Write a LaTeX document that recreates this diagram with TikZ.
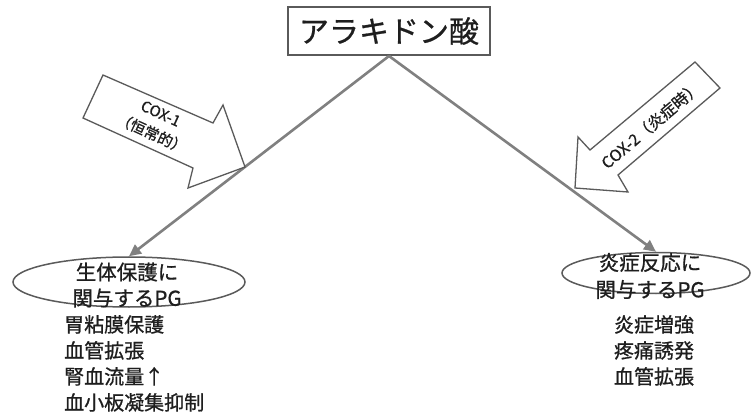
\documentclass[tikz,border=0pt]{standalone}
\usepackage{fontspec}
\setmainfont{Noto Sans CJK JP}[AutoFakeBold=0.8]
\usetikzlibrary{arrows.meta,shapes.geometric}
\definecolor{linegray}{HTML}{808080}
\definecolor{boxgray}{HTML}{5A5A5A}
\definecolor{inkc}{HTML}{1E1E1E}
\begin{document}
\begin{tikzpicture}[x=1pt,y=-1pt,
  every node/.style={text=inkc},
  topbox/.style={draw=boxgray,line width=2pt,minimum width=202pt,minimum height=48pt,inner sep=0pt,font=\fontsize{30}{32}\selectfont\bfseries},
  oval/.style={ellipse,draw=boxgray,line width=1.5pt,inner sep=0pt},
  conn/.style={draw=linegray,line width=2.6pt,-{Triangle[length=12pt,width=11pt]}},
  blockarrow/.style={draw=boxgray,line width=1.3pt,fill=white,line join=miter},
  labeltext/.style={font=\fontsize{20.5}{26}\selectfont\bfseries,inner sep=0pt},
  listtext/.style={font=\fontsize{20}{26}\selectfont\bfseries,inner sep=0pt},
  arrowtext/.style={font=\fontsize{15}{22}\selectfont\bfseries,inner sep=0pt,align=center}
]
\useasboundingbox[fill=white] (0,0) rectangle (751,419);

% top node
\node[topbox] (aa) at (389,31) {アラキドン酸};

% ellipses
\node[oval,minimum width=232pt,minimum height=50pt] (le) at (129,282) {};
\node[oval,minimum width=188pt,minimum height=41pt] (re) at (656,273) {};

% ellipse labels
\node[labeltext,align=center] (lt) at (127,285) {生体保護に\\関与するPG};
\node[labeltext,align=center,font=\fontsize{20.5}{27}\selectfont\bfseries] (rt) at (650,276) {炎症反応に\\関与するPG};

% connectors
\draw[conn] (aa.south) -- (le.north);
\draw[conn] (aa.south) -- (re.north);

% block arrows
\draw[blockarrow] (103,75) -- (213,123) -- (223,105) -- (245,167) -- (188,188) -- (193,168) -- (83,118) -- cycle;
\draw[blockarrow] (695,62) -- (720,88) -- (618,175) -- (628,192) -- (575,188) -- (578,137) -- (590,150) -- cycle;

\node[arrowtext,rotate=-24.5] (c1) at (156,124) {COX-1\\（恒常的）};
\node[arrowtext,rotate=40.3,font=\fontsize{16}{18}\selectfont\bfseries] (c2) at (651,125) {COX-2（炎症時）};

% lists
\node[listtext,align=left,anchor=north west] (ll) at (64,315) {胃粘膜保護\\血管拡張\\腎血流量↑\\血小板凝集抑制};
\node[listtext,align=center,anchor=north] (rl) at (654,315) {炎症増強\\疼痛誘発\\血管拡張};
\end{tikzpicture}
\end{document}
